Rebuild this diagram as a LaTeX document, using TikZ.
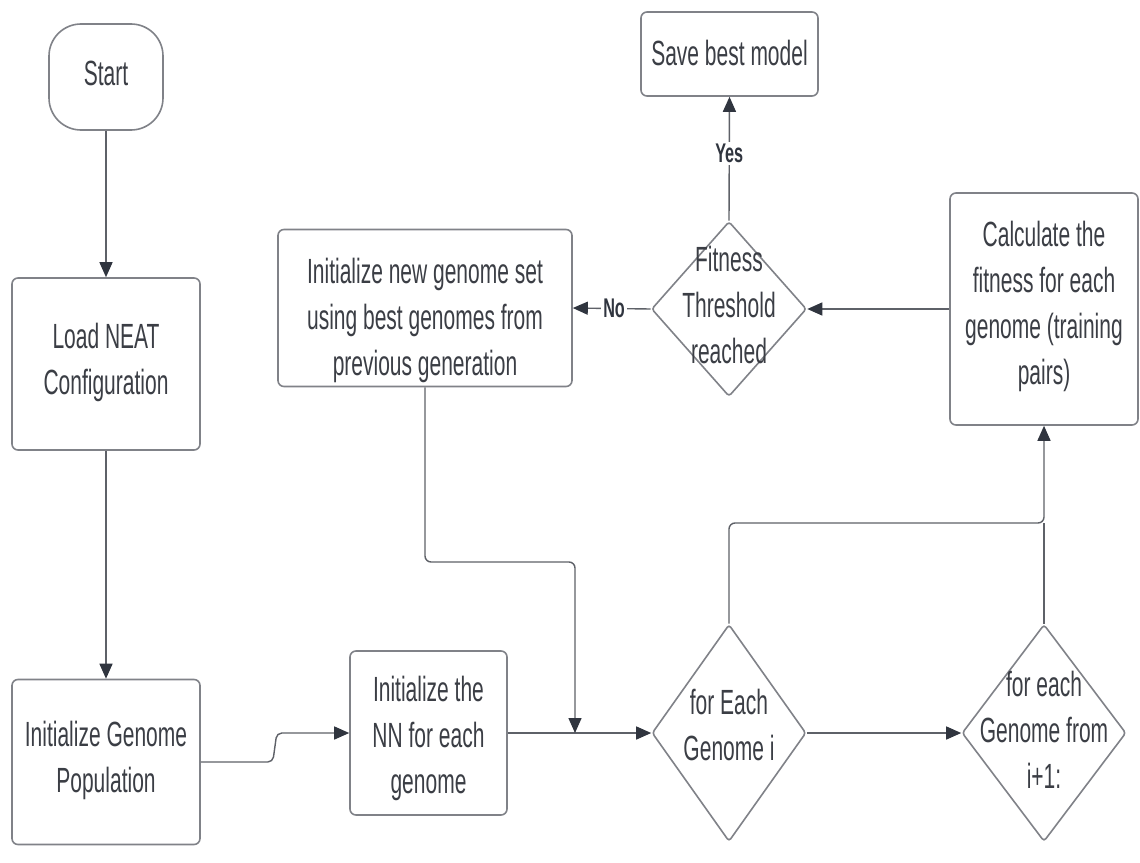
\documentclass[tikz,border=0pt]{standalone}
\usepackage{fontspec}
\setmainfont{Liberation Sans}[FakeStretch=0.6]
\usetikzlibrary{shapes.geometric,arrows.meta}
\definecolor{boxc}{HTML}{808288}
\definecolor{linec}{HTML}{5E6168}
\definecolor{tipc}{HTML}{30353F}
\definecolor{txtc}{HTML}{3B3E45}
\tikzset{
  box/.style={draw=boxc, line width=1.6pt, rounded corners=6pt, fill=white, inner sep=0pt},
  term/.style={box, rounded corners=32pt},
  dia/.style={draw=boxc, line width=1.6pt, diamond, fill=white, inner sep=0pt, rounded corners=3pt},
  txt/.style={text=txtc, align=center, font=\fontsize{35}{46}\selectfont, inner sep=0pt},
  lbl/.style={text=tipc, font=\fontsize{27}{30}\selectfont\bfseries, fill=white, inner sep=2pt},
  conn/.style={draw=linec, line width=1.4pt, -{Triangle[length=15pt,width=13pt,color=tipc]}},
  plain/.style={draw=linec, line width=1.4pt},
}
\begin{document}
\begin{tikzpicture}[x=1pt,y=-1pt]
\useasboundingbox[fill=white] (0,0) rectangle (1140,862);
% nodes
\node[term, minimum width=114pt, minimum height=106pt] (start) at (106,77) {};
\node[txt] at (106,73) {Start};
\node[box, minimum width=188pt, minimum height=172pt] (load) at (106,364) {};
\node[txt] at (106,362) {Load NEAT\\Configuration};
\node[box, minimum width=188pt, minimum height=165pt] (pop) at (106,762) {};
\node[txt] at (106,760) {Initialize Genome\\Population};
\node[box, minimum width=157pt, minimum height=164pt] (nn) at (428.5,733) {};
\node[txt] at (428.5,738) {Initialize the\\NN for each\\genome};
\node[dia, minimum width=154pt, minimum height=217pt] (fori) at (729,733) {};
\node[txt] at (729,725) {for Each\\Genome i};
\node[dia, minimum width=164pt, minimum height=217pt] (forj) at (1044,733) {};
\node[txt] at (1044,730) {for each\\Genome from\\i+1:};
\node[box, minimum width=188pt, minimum height=232pt] (calc) at (1044,309) {};
\node[txt] at (1044,306) {Calculate the\\fitness for each\\genome (training\\pairs)};
\node[dia, minimum width=155pt, minimum height=175pt] (fit) at (729,309) {};
\node[txt] at (729,305) {Fitness\\Threshold\\reached};
\node[box, minimum width=177pt, minimum height=84pt] (save) at (729.5,54) {};
\node[txt] at (729.5,53) {Save best model};
\node[box, minimum width=294pt, minimum height=157pt] (newgen) at (425,308) {};
\node[txt] at (425,320) {Initialize new genome set\\using best genomes from\\previous generation};
% helper coordinates
\coordinate (merge) at (575,733);
\coordinate (loopy) at (1044,523);
% connectors
\draw[conn] (start.south) -- (load.north);
\draw[conn] (load.south) -- (pop.north);
\draw[conn, rounded corners=5pt] (pop.east) -- ++(72,0) -- ++(4,-29) -- (nn.west);
\draw[conn] (nn.east) -- (fori.west);
\draw[conn, rounded corners=6pt] (newgen.south) -- (425,562) -- (575,562) -- (merge);
\draw[conn] (fori.east) -- (forj.west);
\draw[conn, rounded corners=6pt] (fori.north) -- (729,523) -- (loopy) -- (calc.south);
\draw[plain] (forj.north) -- (loopy);
\draw[conn] (calc.west) -- (fit.east);
\draw[conn] (fit.west) -- node[lbl, pos=0.47] {No} (newgen.east);
\draw[conn] (fit.north) -- node[lbl, pos=0.54] {Yes} (save.south);
\end{tikzpicture}
\end{document}
